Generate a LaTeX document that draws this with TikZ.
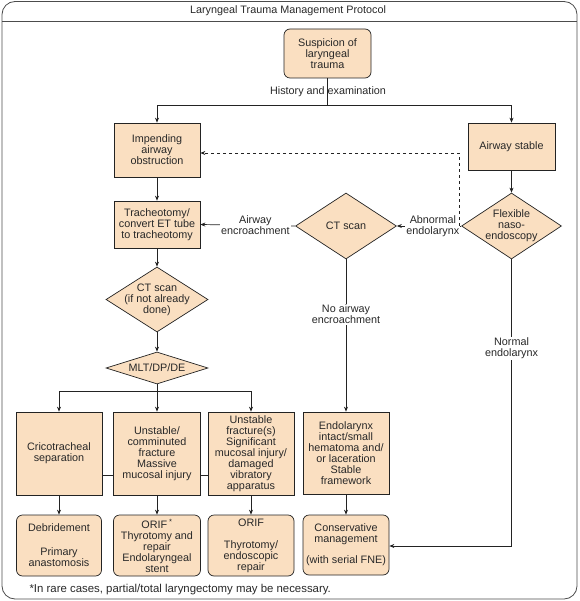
\documentclass[tikz,border=0pt]{standalone}
\usepackage{fontspec}
\setmainfont{Liberation Sans}
\usetikzlibrary{shapes.geometric,arrows.meta}
\definecolor{peach}{RGB}{250,223,193}
\definecolor{edge}{RGB}{35,35,35}
\definecolor{ink}{RGB}{40,40,40}
\begin{document}
\begin{tikzpicture}[x=1pt,y=-1pt,
  every node/.style={font=\fontsize{10.8}{11}\selectfont, align=center, text=ink},
  box/.style={draw=edge, fill=peach, line width=0.7pt, inner sep=0pt},
  rbox/.style={box, rounded corners=6pt},
  dia/.style={diamond, draw=edge, fill=peach, line width=0.7pt, inner sep=0pt},
  arr/.style={draw=edge, line width=0.7pt, -{Stealth[length=5pt,width=4pt]}},
  ln/.style={draw=edge, line width=0.7pt},
  lbl/.style={fill=white, inner sep=1pt}]
\useasboundingbox (0,0) rectangle (579,601);
% frame
\draw[line width=0.8pt, draw=black!70, rounded corners=13pt] (2,1.5) rectangle (577,599);
\draw[line width=0.7pt, draw=black!70] (2,21) -- (577,21);
\node (title) at (288,11) {Laryngeal Trauma Management Protocol};
% nodes
\node[rbox, minimum width=87pt, minimum height=49pt] (sus) at (327.5,53.5) {Suspicion of\\laryngeal\\trauma};
\node[box, minimum width=86pt, minimum height=54pt] (imp) at (157,150) {Impending\\airway\\obstruction};
\node[box, minimum width=87pt, minimum height=47pt] (stab) at (511.5,146.5) {Airway stable};
\node[box, minimum width=86pt, minimum height=47pt] (trach) at (157,224.5) {Tracheotomy/\\convert ET tube\\to tracheotomy};
\node[dia, minimum width=101pt, minimum height=66pt] (ct1) at (346,226) {};
\node at (ct1) {CT scan};
\node[dia, minimum width=100pt, minimum height=66pt] (flex) at (511.5,226) {};
\node at (flex) {Flexible\\naso-\\endoscopy};
\node[dia, minimum width=102pt, minimum height=65pt] (ct2) at (157,299.5) {};
\node at (ct2) {CT scan\\(if not already\\done)};
\node[dia, minimum width=102pt, minimum height=32pt] (mlt) at (157,368) {};
\node at (mlt) {MLT/DP/DE};
\node[box, minimum width=86pt, minimum height=83pt] (b1) at (59,453.5) {Cricotracheal\\separation};
\node[box, minimum width=87pt, minimum height=83pt] (b2) at (157,453.5) {Unstable/\\comminuted\\fracture\\Massive\\mucosal injury};
\node[box, minimum width=86pt, minimum height=83pt] (b3) at (251,453.5) {Unstable\\fracture(s)\\Significant\\mucosal injury/\\damaged\\vibratory\\apparatus};
\node[box, minimum width=86pt, minimum height=82pt] (b4) at (346,453) {Endolarynx\\intact/small\\hematoma and/\\or laceration\\Stable\\framework};
\node[rbox, minimum width=85pt, minimum height=61pt] (c1) at (59,545.5) {Debridement\\[13pt]Primary\\anastomosis};
\node[rbox, minimum width=87pt, minimum height=61pt] (c2) at (157,545.5) {ORIF\,\textsuperscript{*}\\Thyrotomy and\\repair\\Endolaryngeal\\stent};
\node[rbox, minimum width=86pt, minimum height=61pt] (c3) at (251,545.5) {ORIF\\[11pt]Thyrotomy/\\endoscopic\\repair};
\node[rbox, minimum width=86pt, minimum height=60pt] (c4) at (346,545) {Conservative\\management\\[10pt](with serial FNE)};
\node[anchor=west, font=\fontsize{11.4}{12}\selectfont] (foot) at (26,590) {*In rare cases, partial/total laryngectomy may be necessary.};
% coordinates
\coordinate (split) at (327.5,105);
\coordinate (dsh) at (459,226);
\coordinate (dy) at (0,153);
\coordinate (mb) at (157,391);
\coordinate (yl) at (0,475);
\coordinate (nb) at (511.5,546);
% connectors
\draw[ln] (sus.south) -- (split);
\node (hist) at (328,92) {History and examination};
\draw[arr] (split) -| (imp.north);
\draw[arr] (split) -| (stab.north);
\draw[arr] (stab.south) -- (flex.north);
\draw[arr] (flex.west) -- node[lbl, pos=0.44] (abn) {Abnormal\\endolarynx} (ct1.east);
\draw[arr, dashed] (dsh) |- (imp.east |- dy);
\draw[arr] (ct1.west) -- node[lbl, pos=0.42] (enc) {Airway\\encroachment} (trach.east);
\draw[arr] (imp.south) -- (trach.north);
\draw[arr] (trach.south) -- (ct2.north);
\draw[arr] (ct2.south) -- (mlt.north);
\draw[ln] (mlt.south) -- (mb);
\draw[arr] (mb) -| (b1.north);
\draw[arr] (mb) -| (b3.north);
\draw[arr] (mb) -- (b2.north);
\draw[ln] (b1.east |- yl) -- (b2.west |- yl);
\draw[ln] (b2.east |- yl) -- (b3.west |- yl);
\draw[arr] (b1.south) -- (c1.north);
\draw[arr] (b2.south) -- (c2.north);
\draw[arr] (b3.south) -- (c3.north);
\draw[arr] (b4.south) -- (c4.north);
\draw[arr] (ct1.south) -- node[lbl, pos=0.36] (noenc) {No airway\\encroachment} (b4.north);
\draw[arr] (flex.south) -- node[lbl, pos=0.31] (norm) {Normal\\endolarynx} (nb) -- (c4.east |- nb);
\end{tikzpicture}
\end{document}
